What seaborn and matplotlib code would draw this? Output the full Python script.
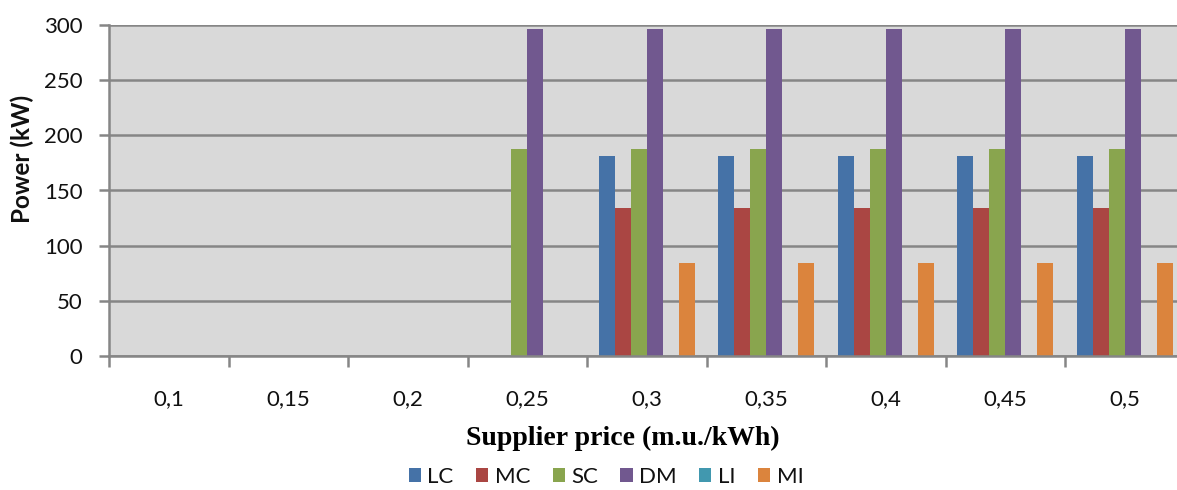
import matplotlib
matplotlib.use("Agg")
import matplotlib.pyplot as plt
import seaborn as sns
import pandas as pd
from matplotlib.patches import Patch

prices = ["0,1", "0,15", "0,2", "0,25", "0,3", "0,35", "0,4", "0,45", "0,5"]
series = ["LC", "MC", "SC", "DM", "LI", "MI"]
LC = [0, 0, 0, 0, 181, 181, 181, 181, 181]
MC = [0, 0, 0, 0, 134, 134, 134, 134, 134]
SC = [0, 0, 0, 188, 188, 188, 188, 188, 188]
DM = [0, 0, 0, 296, 296, 296, 296, 296, 296]
LI = [0, 0, 0, 0, 0, 0, 0, 0, 0]
MI = [0, 0, 0, 0, 84, 84, 84, 84, 84]
colors = ["#4572A7", "#AA4643", "#89A54E", "#71588F", "#4198AF", "#DB843D"]

values = {"LC": LC, "MC": MC, "SC": SC, "DM": DM, "LI": LI, "MI": MI}
rows = []
for s in series:
    for p, v in zip(prices, values[s]):
        rows.append({"price": p, "series": s, "power": v})
df = pd.DataFrame(rows)

sns.set_theme(style="white")
plt.rcParams["font.family"] = ["Lato", "DejaVu Sans"]

fig = plt.figure(figsize=(11.77, 4.9), dpi=100)
ax = fig.add_axes([109 / 1177, 1 - 356 / 490, 1075.5 / 1177, 331 / 490])
ax.set_facecolor("#D9D9D9")

sns.barplot(data=df, x="price", y="power", hue="series", order=prices,
            hue_order=series, palette=colors, width=0.8, gap=0,
            saturation=1, legend=False, ax=ax, linewidth=0, errorbar=None)

ax.set_ylim(0, 300)
ax.set_xlim(-0.5, len(prices) - 0.5)
ax.set_yticks(range(0, 301, 50))
ax.yaxis.grid(True, color="#868686", linewidth=1.8)
ax.set_axisbelow(True)
for sp in ["top", "right"]:
    ax.spines[sp].set_visible(False)
for sp in ["left", "bottom"]:
    ax.spines[sp].set_color("#868686")
    ax.spines[sp].set_linewidth(1.8)

ax.tick_params(axis="y", length=7, width=1.8, color="#868686",
               labelsize=16, pad=12, labelcolor="#111111", left=True)

bounds = [i - 0.5 for i in range(len(prices) + 1)]
ax.set_xticks(bounds)
ax.set_xticklabels([""] * len(bounds))
ax.tick_params(axis="x", which="major", length=8, width=1.8,
               color="#868686", bottom=True, direction="out")
ax.set_xticks(range(len(prices)), minor=True)
ax.set_xticklabels(prices, minor=True)
ax.tick_params(axis="x", which="minor", length=0, pad=24, labelsize=16,
               labelcolor="#111111")

ax.set_xlabel("")
ax.set_ylabel("")
fig.text(22 / 1177, 1 - 159 / 490, "Power (kW)", rotation=90,
         fontsize=17.5, fontweight="bold", ha="center", va="center",
         color="#111111")

fig.text(623 / 1177, 1 - 438 / 490, "Supplier price (m.u./kWh)",
         family="Liberation Serif", fontweight="bold", fontsize=20,
         ha="center", va="center", color="#000000")

handles = [Patch(facecolor=c, edgecolor="none", label=s)
           for s, c in zip(series, colors)]
fig.legend(handles=handles, loc="center", ncol=6,
           bbox_to_anchor=(606 / 1177, 1 - 477 / 490), frameon=False,
           fontsize=16, handlelength=0.55, handleheight=0.55,
           handletextpad=0.3, columnspacing=1.0, labelcolor="#111111")

fig.savefig("out.png", dpi=100)
